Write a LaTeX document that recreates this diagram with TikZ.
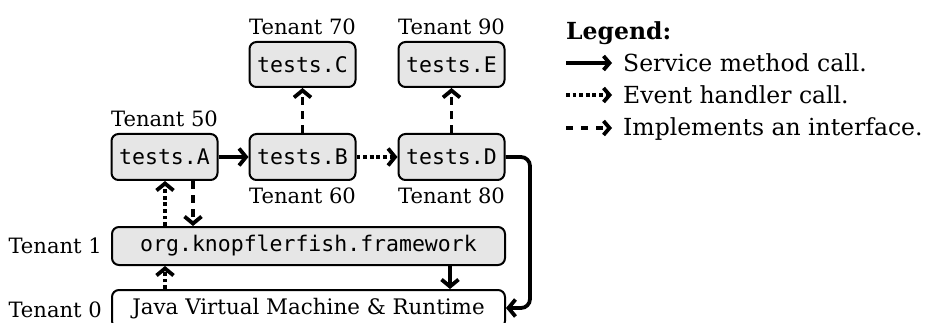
\documentclass[tikz,border=0pt]{standalone}
\usepackage{fontspec}
\setmainfont{DejaVu Serif}
\setmonofont{DejaVu Sans Mono}
\usetikzlibrary{arrows.meta}
\definecolor{boxfill}{HTML}{E6E6E6}
\begin{document}
\begin{tikzpicture}[x=1pt,y=-1pt,
  box/.style={draw, line width=2pt, rounded corners=7pt, fill=boxfill,
    font=\fontsize{21.5}{25}\selectfont\ttfamily, inner sep=0pt},
  small/.style={box, minimum width=106pt, minimum height=46pt},
  wide/.style={box, minimum width=393pt, minimum height=38pt},
  lbl/.style={font=\fontsize{21.1}{25}\selectfont, inner sep=0pt},
  leg/.style={font=\fontsize{23.5}{28}\selectfont, inner sep=0pt},
  conn/.style={line width=3.8pt, -{Straight Barb[length=7pt,width=17pt]}},
  svc/.style={conn},
  evt/.style={conn, dash pattern=on 3.8pt off 2.8pt},
  impl/.style={conn, dash pattern=on 8pt off 6pt},
  legtip/.style={-{Straight Barb[length=6pt,width=14pt]}},
]
\useasboundingbox (0,0) rectangle (928,323);
% boxes
\node[small] (A) at (164.5,157) {tests.A};
\node[small] (B) at (302.5,157) {tests.B};
\node[small] (D) at (451.5,157) {tests.D};
\node[small, minimum height=45pt] (C) at (302.5,64.5) {tests.C};
\node[small, minimum height=45pt] (E) at (451.5,64.5) {tests.E};
\node[wide] (F) at (308.5,246) {org.knopflerfish.framework};
\node[wide, fill=white, font=\fontsize{21.4}{25}\selectfont\rmfamily] (J) at (308.5,309) {Java Virtual Machine \& Runtime};
% tenant labels
\node[lbl, anchor=base] (t50) at (164.5,127) {Tenant 50};
\node[lbl, anchor=base] (t70) at (302.5,35) {Tenant 70};
\node[lbl, anchor=base] (t90) at (451.5,35) {Tenant 90};
\node[lbl, anchor=base] (t60) at (302.5,203) {Tenant 60};
\node[lbl, anchor=base] (t80) at (451.5,203) {Tenant 80};
\node[lbl, anchor=base east] (t1) at (102,253) {Tenant 1};
\node[lbl, anchor=base east] (t0) at (102,317) {Tenant 0};
% connectors
\draw[svc] (A) -- (B);
\draw[evt] (B) -- (D);
\draw[impl] (B) -- (C);
\draw[impl] (D) -- (E);
\draw[evt] (F.north -| 165,0) -- (A.south -| 165,0);
\draw[impl] (A.south -| 193,0) -- (F.north -| 193,0);
\draw[evt] (J.north -| 165,0) -- (F.south -| 165,0);
\draw[svc] (F.south -| 450,0) -- (J.north -| 450,0);
\coordinate (Jr) at (J.east |- 0,308);
\draw[svc, rounded corners=9pt] (D.east) -- (530,157) -- (530,308) -- (Jr);
% legend
\node[leg, anchor=base west, font=\fontsize{23.5}{28}\selectfont\bfseries] (lg) at (566,40) {Legend:};
\node[leg, anchor=base west] (l1) at (623,72) {Service method call.};
\node[leg, anchor=base west] (l2) at (623,104) {Event handler call.};
\node[leg, anchor=base west] (l3) at (623,136) {Implements an interface.};
\coordinate (a1) at (566,63);
\coordinate (a2) at (566,95);
\coordinate (a3) at (566,128);
\coordinate (b1) at (612,63);
\coordinate (b2) at (612,95);
\coordinate (b3) at (612,128);
\draw[svc, legtip] (a1) -- (b1);
\draw[evt, legtip] (a2) -- (b2);
\draw[impl, dash pattern=on 7pt off 8pt, legtip] (a3) -- (b3);
\end{tikzpicture}
\end{document}
